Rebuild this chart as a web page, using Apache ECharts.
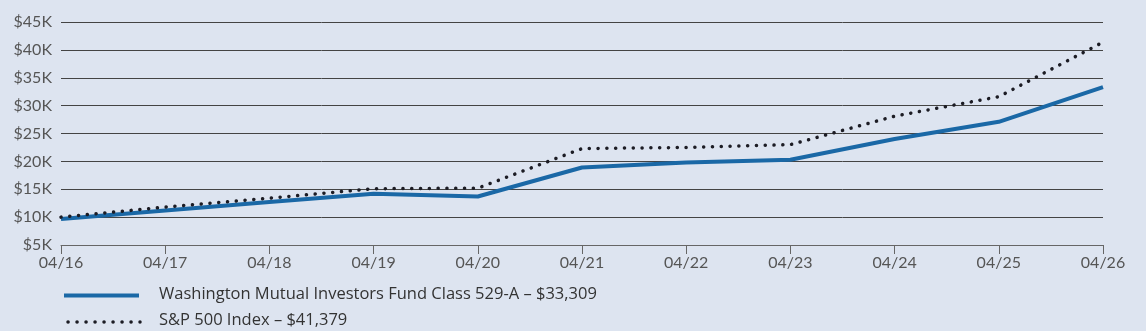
<!DOCTYPE html>
<html><head><meta charset="utf-8">
<script src="https://cdn.jsdelivr.net/npm/echarts@6/dist/echarts.min.js"></script>
<style>html,body{margin:0;padding:0;background:#dde4f0;}#c{width:1146px;height:331px;}</style>
</head><body><div id="c"></div>
<script>
const categories = ['04/16','04/17','04/18','04/19','04/20','04/21','04/22','04/23','04/24','04/25','04/26'];
const fundName = 'Washington Mutual Investors Fund Class 529-A – $33,309';
const indexName = 'S&P 500 Index – $41,379';
const fundValues = [9650, 11200, 12700, 14200, 13700, 18900, 19800, 20300, 24000, 27100, 33309];
const indexValues = [10000, 11800, 13400, 15100, 15200, 22300, 22500, 23000, 28100, 31600, 41379];

const chart = echarts.init(document.getElementById('c'));
const font = 'Lato, "Open Sans", sans-serif';
const legendFont = 'Open Sans';
const blue = '#1a68a6', dark = '#1c1c24';
chart.setOption({
  backgroundColor: '#dde4f0',
  animation: false,
  grid: {left: 61, right: 43, top: 22, bottom: 86},
  graphic: [
    {type: 'line', shape: {x1: 64, y1: 295.5, x2: 139, y2: 295.5}, style: {stroke: blue, lineWidth: 4}},
    {type: 'text', left: 159, top: 286, style: {text: fundName, fontSize: 16.5, fontFamily: legendFont, fill: '#333'}},
    {type: 'line', shape: {x1: 68, y1: 322, x2: 140, y2: 322}, style: {stroke: dark, lineWidth: 3.5, lineDash: [0.1, 8.9], lineCap: 'round'}},
    {type: 'text', left: 159, top: 312, style: {text: indexName, fontSize: 16.5, fontFamily: legendFont, fill: '#333'}}
  ],
  xAxis: {
    type: 'category', data: categories, boundaryGap: false,
    axisLine: {lineStyle: {color: '#666', width: 1}},
    axisTick: {show: true, length: 9, lineStyle: {color: '#666'}},
    axisLabel: {fontFamily: font, fontSize: 16, color: '#555', margin: 10}
  },
  yAxis: {
    type: 'value', min: 5000, max: 45000, interval: 5000,
    axisLine: {show: false}, axisTick: {show: false},
    axisLabel: {fontFamily: font, fontSize: 16, color: '#555', margin: 9,
      formatter: v => '$' + (v/1000) + 'K'},
    splitLine: {lineStyle: {color: '#444', width: 1}}
  },
  series: [
    {name: indexName, type: 'line', data: indexValues, showSymbol: false, symbol: 'none',
     lineStyle: {color: dark, width: 3.5, type: [0.1, 8.7], cap: 'round'}, z: 3},
    {name: fundName, type: 'line', data: fundValues, showSymbol: false, symbol: 'none',
     lineStyle: {color: blue, width: 4}, z: 2}
  ]
});
</script></body></html>
